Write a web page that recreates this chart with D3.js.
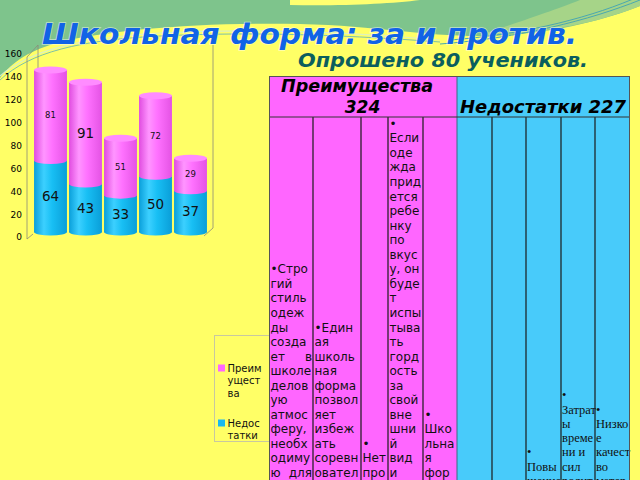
<!DOCTYPE html>
<html>
<head>
<meta charset="utf-8">
<script src="https://cdn.jsdelivr.net/npm/d3@7"></script>
<style>
  body { margin: 0; background: #FFFF66; }
  svg { display: block; }
</style>
</head>
<body>
<script>
// ---------------- DATA ----------------
const categories = ["1", "2", "3", "4", "5"];
const advantages = [81, 91, 51, 72, 29];      // Преимущества (pink, top)
const disadvantages = [64, 43, 33, 50, 37];   // Недостатки (blue, bottom)
const yTicks = [0, 20, 40, 60, 80, 100, 120, 140, 160];
const seriesNames = ["Преимущества", "Недостатки"];
const legendLines = [["Преим", "ущест", "ва"], ["Недос", "татки"]];
const titleText = "Школьная форма: за и против.";
const subtitleText = "Опрошено 80 учеников.";
const prosColumns = [
  ["•Стро","гий","стиль","одеж","ды","созда","ет в","школе","делов","ую","атмос","феру,","необх","одиму","ю для"],
  ["•Един","ая","школь","ная","форма","позвол","яет","избеж","ать","соревн","овател"],
  ["•","Нет","про"],
  ["•","Если","оде","жда","прид","ется","ребе","нку","по","вкус","у, он","буде","т","испы","тыва","ть","горд","ость","за","свой","вне","шни","й","вид","и"],
  ["•","Шко","льна","я","фор"]
];
const consColumns = [
  [],
  [],
  ["•","Повы","шение"],
  ["•","Затрат","ы","време","ни и","сил","родит"],
  ["•","Низко","е","качест","во","матер"]
];

// ---------------- STYLE ----------------
const advLabelSize = [8.5, 13.5, 8.5, 8.5, 8.5];
const disLabelSize = [13.5, 13.5, 13.5, 13.5, 13.5];
const PINK = "#FF66FF", BLUE = "#48CBFA";

const svg = d3.select("body").append("svg").attr("width", 640).attr("height", 480);
const defs = svg.append("defs");

function hGrad(id, stops) {
  const g = defs.append("linearGradient").attr("id", id).attr("x1", "0%").attr("x2", "100%").attr("y1", "0%").attr("y2", "0%");
  stops.forEach(s => g.append("stop").attr("offset", s[0]).attr("stop-color", s[1]));
}
hGrad("gPink", [["0%", "#E04CE0"], ["30%", "#FF95FF"], ["55%", "#FF72FF"], ["100%", "#E453E4"]]);
hGrad("gBlue", [["0%", "#0A9FDA"], ["30%", "#3CD0FF"], ["55%", "#18BFF4"], ["100%", "#0A9ED8"]]);

// ---------------- BACKGROUND SWOOSH ----------------
svg.append("rect").attr("width", 640).attr("height", 480).attr("fill", "#FFFF66");
svg.append("path")
  .attr("d", "M0,0 H640 V6 C600,22 540,36 480,36 C420,36 380,26 300,24 C200,22 110,30 60,42 C30,50 12,62 0,78 Z")
  .attr("fill", "#7EC48C");
svg.append("path")
  .attr("d", "M430,0 H640 V6 C600,22 545,34 480,35 C520,22 560,8 580,0 Z")
  .attr("fill", "#A6D488");
svg.append("path")
  .attr("d", "M290,0 H420 C390,4 340,6 290,5 Z")
  .attr("fill", "#FFFF70");
svg.append("path")
  .attr("d", "M0,80 C30,52 80,40 160,36 C260,31 360,36 440,42")
  .attr("fill", "none").attr("stroke", "#5DB0B8").attr("stroke-width", 1).attr("opacity", 0.8);
svg.append("path")
  .attr("d", "M0,76 C30,50 80,38 160,33 C260,28 360,33 440,40")
  .attr("fill", "none").attr("stroke", "#D8F0C8").attr("stroke-width", 1.2).attr("opacity", 0.9);
svg.append("path")
  .attr("d", "M440,44 C520,38 590,20 640,0")
  .attr("fill", "none").attr("stroke", "#4AA8B0").attr("stroke-width", 1);
svg.append("path")
  .attr("d", "M450,40 C530,34 595,16 640,-4")
  .attr("fill", "none").attr("stroke", "#4AA8B0").attr("stroke-width", 1);

// ---------------- TITLE ----------------
svg.append("text").attr("x", 42).attr("y", 44)
  .attr("font-family", "DejaVu Sans").attr("font-weight", "bold").attr("font-style", "italic")
  .attr("font-size", 28).attr("fill", "#1163E6")
  .attr("textLength", 535).attr("lengthAdjust", "spacingAndGlyphs")
  .attr("stroke", "rgba(255,255,255,0.55)").attr("stroke-width", 1.4).attr("paint-order", "stroke")
  .text(titleText);
svg.append("text").attr("x", 298).attr("y", 67)
  .attr("font-family", "DejaVu Sans").attr("font-weight", "bold").attr("font-style", "italic")
  .attr("font-size", 19).attr("fill", "#0B5E5E")
  .attr("textLength", 290).attr("lengthAdjust", "spacingAndGlyphs")
  .text(subtitleText);

// ---------------- CHART ----------------
const x = d3.scaleBand().domain(categories).range([33, 208]).paddingInner(0.06).paddingOuter(0.03);
const yBar = d3.scaleLinear().domain([0, 160]).range([232, 53.3]);
const yTick = d3.scaleLinear().domain([0, 160]).range([237, 54]);

// 3D frame lines
const frame = svg.append("g").attr("stroke", "#8A8A7A").attr("stroke-width", 0.8).attr("fill", "none");
frame.append("path").attr("d", "M27,57 L38,45 L38,232");
frame.append("path").attr("d", "M27,57 L27,239 L33,234");
frame.append("path").attr("d", "M213,45 L213,228 L204,236");

const axisG = svg.append("g").attr("transform", "translate(22,0)")
  .call(d3.axisLeft(yTick).tickValues(yTicks).tickSize(0).tickPadding(0));
axisG.select(".domain").remove();
axisG.selectAll("text").attr("font-family", "DejaVu Sans").attr("font-size", 9).attr("fill", "#000");

const bw = x.bandwidth(), ry = 3.5;
const bars = svg.append("g");
categories.forEach((c, i) => {
  const x0 = x(c), cx = x0 + bw / 2;
  const yb = yBar(0), ym = yBar(disadvantages[i]), yt = yBar(disadvantages[i] + advantages[i]);
  bars.append("ellipse").attr("cx", cx).attr("cy", yb).attr("rx", bw / 2).attr("ry", ry).attr("fill", "url(#gBlue)");
  bars.append("rect").attr("x", x0).attr("y", ym).attr("width", bw).attr("height", yb - ym).attr("fill", "url(#gBlue)");
  bars.append("ellipse").attr("cx", cx).attr("cy", ym).attr("rx", bw / 2).attr("ry", ry).attr("fill", "url(#gPink)");
  bars.append("rect").attr("x", x0).attr("y", yt).attr("width", bw).attr("height", ym - yt).attr("fill", "url(#gPink)");
  bars.append("ellipse").attr("cx", cx).attr("cy", yt).attr("rx", bw / 2).attr("ry", ry).attr("fill", "#FF8CFF");
  bars.append("text").attr("x", cx).attr("y", (yb + ym) / 2).attr("text-anchor", "middle").attr("dominant-baseline", "central")
    .attr("font-family", "DejaVu Sans").attr("font-size", disLabelSize[i]).attr("fill", "#111").text(disadvantages[i]);
  bars.append("text").attr("x", cx).attr("y", (ym + yt) / 2).attr("text-anchor", "middle").attr("dominant-baseline", "central")
    .attr("font-family", "DejaVu Sans").attr("font-size", advLabelSize[i]).attr("fill", "#111").text(advantages[i]);
});

// ---------------- LEGEND ----------------
const lg = svg.append("g");
lg.append("rect").attr("x", 214.5).attr("y", 335.5).attr("width", 70).attr("height", 106)
  .attr("fill", "none").attr("stroke", "#C8C8A0").attr("stroke-width", 1);
const legColors = [PINK, "#1AB8F0"];
const legTop = [368, 423];
legendLines.forEach((lines, k) => {
  lg.append("rect").attr("x", 218).attr("y", legTop[k] - 3.5).attr("width", 7).attr("height", 7).attr("fill", legColors[k]);
  lines.forEach((t, j) => {
    lg.append("text").attr("x", 227.5).attr("y", legTop[k] + j * 12.6).attr("dominant-baseline", "central")
      .attr("font-family", "DejaVu Sans").attr("font-size", 10).attr("fill", "#111").text(t);
  });
});

// ---------------- TABLE ----------------
const tbl = svg.append("g");
const prosEdges = [269, 313, 361, 388, 423, 457];
const consEdges = [457, 492, 526, 561, 595, 629.5];
const tTop = 76, hBot = 117;
tbl.append("rect").attr("x", 269).attr("y", tTop).attr("width", 188).attr("height", 480 - tTop + 5).attr("fill", PINK);
tbl.append("rect").attr("x", 457).attr("y", tTop).attr("width", 172.5).attr("height", 480 - tTop + 5).attr("fill", BLUE);

const hdrFont = t => t.attr("font-family", "DejaVu Sans").attr("font-weight", "bold").attr("font-style", "italic").attr("font-size", 17).attr("fill", "#000");
hdrFont(tbl.append("text").attr("x", 281).attr("y", 92).attr("textLength", 152).attr("lengthAdjust", "spacingAndGlyphs"))
  .text(seriesNames[0]);
hdrFont(tbl.append("text").attr("x", 362.5).attr("y", 112.5).attr("text-anchor", "middle"))
  .text(d3.sum(advantages));
hdrFont(tbl.append("text").attr("x", 460).attr("y", 112.5).attr("textLength", 166).attr("lengthAdjust", "spacingAndGlyphs"))
  .text(seriesNames[1] + " " + d3.sum(disadvantages));

// pros body text (bottom-aligned rows)
const proLH = 14.55, proBottom = 473;
prosColumns.forEach((lines, ci) => {
  const left = prosEdges[ci], right = prosEdges[ci + 1];
  const n = lines.length;
  lines.forEach((t, j) => {
    const yy = proBottom - (n - 1 - j) * proLH;
    const words = t.split(" ");
    const txt = (tx, s) => tbl.append("text").attr("x", tx).attr("y", yy).attr("dominant-baseline", "central")
      .attr("font-family", "DejaVu Sans").attr("font-size", 12).attr("fill", "#111").text(s);
    if (ci === 0 && words.length > 1) {
      txt(left + 1.5, words[0]);
      txt(right - 1, words.slice(1).join(" ")).attr("text-anchor", "end");
    } else {
      txt(left + 1.5, t);
    }
  });
});
// cons body text (serif)
const conLH = 14.3, conBottom = 481;
consColumns.forEach((lines, ci) => {
  const left = consEdges[ci];
  const n = lines.length;
  lines.forEach((t, j) => {
    tbl.append("text").attr("x", left + 1).attr("y", conBottom - (n - 1 - j) * conLH)
      .attr("dominant-baseline", "central")
      .attr("font-family", "Liberation Serif").attr("font-size", 12.5).attr("fill", "#111").text(t);
  });
});

// grid lines
const gl = tbl.append("g").attr("stroke", "#1A1A1A").attr("stroke-width", 1.2);
prosEdges.slice(1, -1).concat(consEdges.slice(1, -1)).forEach(xx => {
  gl.append("line").attr("x1", xx).attr("x2", xx).attr("y1", hBot).attr("y2", 480);
});
gl.append("line").attr("x1", 457).attr("x2", 457).attr("y1", tTop).attr("y2", 480).attr("stroke", "#3A6A80").attr("stroke-width", 1);
gl.append("line").attr("x1", 269).attr("x2", 629.5).attr("y1", hBot).attr("y2", hBot).attr("stroke", "#333").attr("stroke-width", 1);
tbl.append("rect").attr("x", 269.5).attr("y", tTop + 0.5).attr("width", 360).attr("height", 480)
  .attr("fill", "none").attr("stroke", "#555").attr("stroke-width", 1);
</script>
</body>
</html>
